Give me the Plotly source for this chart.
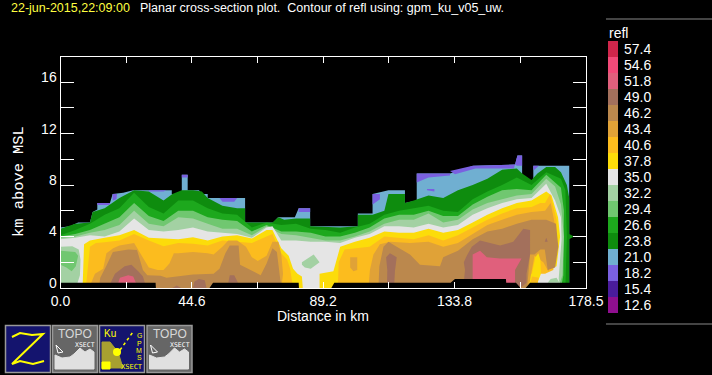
import plotly.graph_objects as go

N = None
title_time = "22-jun-2015,22:09:00"
title_text = "Planar cross-section plot.  Contour of refl using: gpm_ku_v05_uw."
legend_levels = ["12.6","15.4","18.2","21.0","23.8","26.6","29.4","32.2","35.0","37.8","40.6","43.4","46.2","49.0","51.8","54.6","57.4"]
legend_colors = ["#8f0f8f","#4a1c9c","#7a60e0","#70afd1","#0e8c0e","#1da81d","#70c770","#a3d1a3","#e5e5e5","#fcdc0a","#fcbc1e","#e0a237","#bb884d","#a3705c","#e0607c","#f24a78","#d0264b"]
x_ticks = [0,22.3,44.6,66.9,89.2,111.5,133.8,156.1,178.5]
x_labels = ["0.0","","44.6","","89.2","","133.8","","178.5"]
y_ticks = [0,2,4,6,8,10,12,14,16,18]
y_labels = ["0","","4","","8","","12","","16",""]

# Area outlines, km along the section and km above MSL, one pair per refl band
x_21 = [0,3.2,6,10,10.9,12.5,12.5,16.8,17.7,21.3,24.7,37.8,37.8,41.2,41.2,43.2,43.2,47,48.2,50,50,62.7,62.7,72.2,73.9,79.6,80.9,84.8,84.8,101,101,106,106,111.4,117,117,121,121,132.3,140.2,154.4,155.2,156.8,156.8,160.6,160.6,172.8,172.8,0]
y_21 = [4.7,4.8,5.1,5.1,5.9,6.1,6.6,6.6,7.3,7.4,7.6,7.6,7.3,7.3,8.8,8.8,7.6,7.6,7.3,7.3,7.0,7.0,5.1,5.1,5.5,5.5,6.2,6.2,4.8,4.8,5.8,5.8,7.3,7.6,7.6,6.6,6.8,8.9,8.9,9.5,9.6,10.3,10.3,8.4,8.4,9.5,9.5,0,0]
x_18 = [17.7,17.7,19.2,19,N,12.5,17,16.5,12.5,N,30,36,35,30,N,54,60,59,55,N,41.2,43.2,43.2,41.2,N,80.9,84.8,84.8,80.9,N,106,108.5,108.5,106,N,121,132.3,132.3,125,122,121,N,132.3,140,141,134,N,140,154.4,154,141,N,154.4,155.2,156.8,156.8,155,N,160.6,162.5,161,160.6,N,124.5,127,127,124.5]
y_18 = [6.8,7.3,7.3,6.9,N,6.6,6.6,6.45,6.45,N,7.6,7.6,7.5,7.5,N,7,7,6.7,6.7,N,8.8,8.8,8.6,8.6,N,6.2,6.2,5.9,5.9,N,7.3,7.3,6.9,6.5,N,8.9,8.9,8.75,8.6,8.3,8.2,N,9.1,9.5,9.3,8.85,N,9.5,9.6,9.3,9.3,N,9.6,10.3,10.3,9.5,9.5,N,9.5,9.5,9.2,9.2,N,7.7,7.7,7.5,7.6]
x_24 = [0,5,10,10.9,15,20,25,30,35,38,41.2,45,48,50,55,60,62.7,62.7,72,74,76,80,84.8,84.8,95,101,101,106,110,111.4,117,117,120,125,130,135,140,145,150,155,156.8,160,162,165,168,170,172,172.8,172.8,0,N,172.8,174.4,172.8]
y_24 = [4.6,5.0,5.1,5.9,6.2,7.0,7.6,7.5,6.8,7.3,7.6,7.6,7.5,7.0,6.4,6.2,6.2,5.1,5.1,5.5,5.3,5.4,5.4,4.8,4.7,4.8,5.7,5.7,6.0,7.3,7.3,6.6,6.8,7.2,7.0,7.6,8.0,8.5,9.2,9.3,8.9,8.4,8.9,9.4,9.4,9.0,8.0,7,0,0,N,4.2,4.0,3.8]
x_27 = [0,5,10,15,20,25,30,35,40,45,50,55,60,65,70,75,80,85,90,95,100,105,110,115,120,125,130,135,140,145,150,155,160,165,170,171.5,172,171.5,0]
y_27 = [4.1,4.5,5.0,5.7,6.2,7.4,6.3,5.8,6.8,6.8,6.2,5.8,5.7,4.7,5.1,4.9,5.0,4.6,4.5,4.3,4.7,5.0,5.7,6.0,6.2,6.4,6.0,5.9,6.9,7.5,8.0,8.6,8.0,9.0,8.5,7.6,4.0,0,0]
x_29 = [0,5,10,15,20,25,30,35,40,45,50,55,60,65,70,75,80,85,90,95,100,105,110,115,120,125,130,135,140,145,150,155,160,165,170,171,171,170.8,170,0]
y_29 = [4.0,4.2,4.5,5.0,5.5,6.6,5.6,5.2,6.0,6.0,5.5,5.3,5.2,4.4,4.9,4.4,4.4,4.3,4.0,4.0,4.3,4.7,5.4,5.7,5.7,6.0,5.6,5.6,6.5,7.1,7.6,7.7,7.6,8.8,7.8,6.0,4,1,0,0]
x_32 = [0,5,10,15,20,25,30,35,40,45,50,55,60,65,70,75,80,85,90,95,100,105,110,115,120,125,130,135,140,145,150,155,160,165,168,170,171,170.5,169,0]
y_32 = [3.9,4.0,4.3,4.5,4.9,6.0,5.0,4.8,5.5,5.4,5.0,4.6,4.6,4.1,4.8,4.2,4.1,3.9,3.7,3.7,4.0,4.4,5.0,5.3,5.3,5.8,5.1,5.3,6.1,6.6,6.9,7.2,7.3,8.5,7.9,6.5,4,1,0,0]
x_35 = [0,5,10,15,20,25,30,35,40,45,50,55,60,65,70,72,75,80,85,90,95,100,105,110,115,120,125,130,135,140,145,150,155,160,165,168,170,170.2,169.5,169,0]
y_35 = [3.8,3.9,4.1,4.0,4.4,5.4,4.5,4.4,4.5,4.7,4.4,4.3,4.2,3.9,4.7,4.8,3.7,3.7,3.6,3.6,3.5,3.9,4.2,4.8,4.8,4.7,5.0,4.7,4.9,5.7,6.2,6.6,6.9,7.0,8.1,6.8,5.5,3.8,1.2,0,0]
x_left32 = [0,4,6.2,6.8,6.6,5.8,5.8,0,N,82,86,88,85,83,82]
y_left32 = [3.2,3.25,3.0,2.2,1.0,.4,0,0,N,2.0,2.6,2.0,1.5,1.6,1.8]
x_left29 = [0,5,6,5.2,3.8,2,0]
y_left29 = [2.9,2.8,2.5,1.7,1.3,1.6,1.8]
x_38 = [7.5,7.8,8,10,12,15,20,25,30,35,40,45,50,55,60,65,70,72,75,77.5,79,80.5,82,82.3,N,88,88,92.7,94.4,95,100,105,110,115,120,125,130,135,140,145,150,155,160,163,165,166.8,169,169.7,168.5,162.3,162,88]
y_38 = [0,2,3.4,3.7,3.8,3.9,4.1,4.5,3.9,3.85,3.8,3.95,3.7,4.0,4.1,3.85,4.5,4.5,3.1,2.5,1.5,1.1,.9,0,N,0,1.1,1.3,2.7,3.2,3.6,3.9,4.4,4.3,4.3,4.6,4.3,4.5,5.1,5.7,6.2,6.6,6.8,7.2,7.5,7.2,5.5,4.0,1.7,1.1,0,0]
x_41 = [8.6,9,9.5,10,12,15,20,25,30,35,40,45,50,55,60,65,70,72,75,77,78,78.5,79,N,94.2,94.5,96.5,100,105,110,115,120,125,130,135,140,145,150,155,160,163,164.6,166.3,168.5,168.5,167.4,164.6,159,158,94.2]
y_41 = [0,1.0,2.5,3.2,3.5,3.55,3.7,4.2,3.7,3.25,3.5,3.45,3.3,3.7,3.6,3.5,4.0,4.2,2.7,2.2,1.5,.8,0,N,0,2.0,3.0,3.1,3.2,4.0,3.9,3.8,4.1,3.7,4.1,4.7,5.3,5.8,6.2,6.3,6.6,6.6,7.3,5.3,3.7,1.4,1.1,1.1,0,0]
x_43 = [9.7,11.7,14.5,15.6,17.9,20,25,30,33,35,37,38.5,40,45,50,52,55,57,60,63,65,67,70,72,74,75,75.6,75,N,104.6,105.1,106.3,108.5,112,115,118.7,125,130,135,140,145,150,155,160,164.6,166.5,168.3,167.6,165.7,164,161,159,104.6,N,98.4,100.8,100.8,99.5,98.4]
y_43 = [0,1.1,1.5,2.7,3.1,3.3,3.5,1.6,1.4,1.4,1.9,2.7,2.7,2.8,2.7,2.6,3.2,3.7,3.7,3.2,2.4,2.1,2.5,3.6,3.6,2.6,1.1,0,N,0,1.4,2.6,3.4,3.6,3.55,3.5,3.6,3.2,3.5,4.2,4.9,5.3,5.7,5.9,6.0,6.6,4.5,2.2,1.3,2.0,2.5,0,0,N,2.4,2.4,1.4,1.3,1.6]
x_46 = [13,13.5,15.5,17.8,23,26,28,29.5,34,36,45,52,54,56,57.5,60.5,61,66,68,70,72,73.5,74.5,75,N,108,108.3,109.7,111.4,114.2,118.7,122.1,128.9,130,135,140,145,150,155,160,165,168.3,169.1,168,165.5,164.5,163,161,159.5,158.5,108]
y_46 = [0,.8,1.7,2.8,3.0,2.95,1.4,1.0,.95,.8,1.05,1.1,1.5,2.7,3.3,3.3,1.8,1.2,1.0,1.9,3.1,2.8,1.0,0,N,0,1.7,3.2,3.6,3.2,2.6,1.8,1.7,2.4,2.9,3.8,4.4,4.6,5.0,5.3,5.3,5.0,3.2,1.6,1.4,3.0,3.0,2.6,2.6,0,0]
x_49 = [16.2,18.5,21.8,24.1,26.4,28,29.2,N,38,41,39.5,N,45,45.5,47,49,49.6,N,57,57.5,59,60.3,N,110.9,111,110.6,111.9,114.2,113.6,113.3,N,136.8,137.4,137,138,139.7,142.5,149.3,153.8,157.2,159.5,159.5,158.3,158.3,156.1,N,164.5,165,165.5]
y_49 = [0,1.1,1.7,1.8,1.3,.9,0,N,0,0,.2,N,0,.5,.7,.6,0,N,.4,1.0,1.0,.4,N,0,1.4,2.4,2.7,2.4,1.3,0,N,0,1.4,2.0,2.5,3.2,3.7,3.3,3.6,4.6,4.5,2.6,1.1,.4,0,N,3.6,3.9,3.6]
x_52 = [19.6,20.2,23,24.7,25.6,N,140,140,142.5,144.8,149.3,156.6,154.4,154.4,140]
y_52 = [.4,.8,1.0,.9,.4,N,0,2.6,2.9,2.4,2.3,2.3,1.4,0,0]
# Shallow cells near the far end of the section, drawn over the bands above
x_end38 = [159.8,160.2,161.3,162.3,163,163.2,162,159.8]
y_end38 = [.4,1.2,2.4,2.7,2.2,1.1,.4,.4]
x_end41 = [159.6,160.2,162.5,162,159.6]
y_end41 = [.4,.9,.8,.4,.4]
x_end35 = [162.5,163,167,168.5,169.5,162.5]
y_end35 = [.4,.9,1.0,1.1,.4,.4]
x_end32 = [165.5,166.5,168.5,169.5,165.5]
y_end32 = [.4,.7,.8,.4,.4]
# Terrain along the section
x_topo = [0,32.3,32.4,50.6,51.8,80.9,81,92,93,132.5,134,151.3,151.4,154.7,156.3,158,159.5,178.5]
y_topo = [.4,.4,0,0,.4,.4,0,0,.4,.4,.7,.7,.4,.4,0,0,.4,.4]

color_of = dict(zip(legend_levels, legend_colors))
bands = [
    ("21.0",x_21,y_21),("18.2",x_18,y_18),("23.8",x_24,y_24),("26.6",x_27,y_27),("29.4",x_29,y_29),
    ("32.2",x_32,y_32),("35.0",x_35,y_35),("32.2",x_left32,y_left32),("29.4",x_left29,y_left29),
    ("37.8",x_38,y_38),("40.6",x_41,y_41),("43.4",x_43,y_43),("46.2",x_46,y_46),("49.0",x_49,y_49),
    ("51.8",x_52,y_52),("37.8",x_end38,y_end38),("40.6",x_end41,y_end41),("35.0",x_end35,y_end35),("32.2",x_end32,y_end32),
]

W, H = 712, 375
def px(v): return v / W
def py(v): return 1 - v / H

fig = go.Figure()
for level, xs, ys in bands:
    fig.add_trace(go.Scatter(x=xs, y=ys, mode="lines", fill="toself", fillcolor=color_of[level],
                             line=dict(width=0, color=color_of[level]), hoverinfo="skip", showlegend=False))
fig.add_trace(go.Scatter(x=x_topo, y=y_topo, mode="lines", fill="tozeroy", fillcolor="#000000",
                         line=dict(width=0, color="#000000"), hoverinfo="skip", showlegend=False))
fig.add_trace(go.Bar(y=legend_levels, x=[1]*len(legend_levels), orientation="h", marker=dict(color=legend_colors, line=dict(width=0)),
                     xaxis="x2", yaxis="y2", width=1, hoverinfo="skip", showlegend=False))

shapes = []
def rect(x0,y0,x1,y1,fill,line=None,w=1):
    shapes.append(dict(type="rect",xref="paper",yref="paper",x0=px(x0),x1=px(x1),y0=py(y0),y1=py(y1),fillcolor=fill,line=dict(color=line or fill,width=w),layer="above"))
def path(points,color,fill=None,w=1,close=False):
    d = "M" + " L".join(f"{px(a):.5f},{py(b):.5f}" for a,b in points) + (" Z" if close else "")
    shapes.append(dict(type="path",xref="paper",yref="paper",path=d,fillcolor=fill or "rgba(0,0,0,0)",line=dict(color=color,width=w),layer="above"))
annots = []
def text(x,y,s,size=14,color="white",anchor="left",family="Liberation Sans",angle=0):
    annots.append(dict(xref="paper",yref="paper",x=px(x),y=py(y),text=s,showarrow=False,xanchor=anchor,yanchor="middle",borderpad=0,
                       font=dict(size=size,color=color,family=family),textangle=angle))

# header and legend furniture
text(10,8.5,title_time,12.5,"#ffff40")
text(139,8.5,title_text,12.5,"white")
text(608,32.5,"refl",14)
text(323,316,"Distance in km",14,anchor="center")
text(19,182,"km above MSL",15.4,family="Liberation Mono",anchor="center",angle=-90)
path([(606,19),(712,19)],"#888888")
path([(606,324),(712,324)],"#888888")

# toolbar buttons
rect(5.5,325.5,50.5,372.5,"#14146e","#999999",1.5)
path([(12,337),(20,333),(32,335),(43,334),(12,364),(20,361),(33,364),(44,361)],"#ffff00",w=2)
def topo(dx):
    rect(52.5+dx,325.5,97.5+dx,372.5,"#666666","#999999",1.5)
    text(75+dx,334,"TOPO",12,"#d8d8d8",anchor="center")
    text(85+dx,344.5,"XSECT",6.5,"white",anchor="center",family="DejaVu Sans Mono")
    path([(55+dx,369),(55+dx,355),(62+dx,358),(70+dx,357),(74+dx,354),(80+dx,348),(85+dx,352),(90+dx,349),(94+dx,352),(94+dx,369)],"#e0e0e0","#e0e0e0",close=True)
    path([(56+dx,345),(63+dx,352),(58+dx,353),(56+dx,345)],"#ffffff")
topo(0)
rect(99.5,325.5,144.5,372.5,"#14146e","#999999",1.5)
text(110,333,"Ku",10,"#ffff00",anchor="center")
for yy,ch in [(335,"G"),(343,"P"),(350,"M"),(357,"S")]:
    text(139,yy,ch,7,"#ffff00",anchor="center")
text(132,367,"XSECT",7,"#ffff00",anchor="center",family="DejaVu Sans Mono")
path([(102,342),(110,342),(118,352),(123,368),(102,368)],"#a8a030","#a8a030",close=True)
rect(102,362,110,369,"#ffff00")
shapes.append(dict(type="circle",xref="paper",yref="paper",x0=px(113),x1=px(121),y0=py(356),y1=py(348),fillcolor="#ffff00",line=dict(width=0),layer="above"))
shapes.append(dict(type="line",xref="paper",yref="paper",x0=px(120),y0=py(350),x1=px(133),y1=py(332),line=dict(color="#ffff00",width=1.5,dash="dot"),layer="above"))
topo(94.5)

axis_font = dict(size=14,color="white",family="Liberation Sans")
common = dict(showgrid=False,zeroline=False,showline=True,linecolor="white",linewidth=1,mirror="ticks",ticks="inside",tickcolor="white",tickwidth=1,tickfont=axis_font,automargin=False)
fig.update_layout(
    width=W,height=H,autosize=False,margin=dict(l=0,r=0,t=0,b=0,pad=0),
    paper_bgcolor="#000000",plot_bgcolor="#000000",showlegend=False,hovermode=False,
    barmode="stack",bargap=0,shapes=shapes,annotations=annots,
    xaxis=dict(domain=[60.5/W,586/W],range=[0,178.5],tickmode="array",tickvals=x_ticks,ticktext=x_labels,ticklen=6,**common),
    yaxis=dict(domain=[1-288/H,1-56.5/H],range=[0,18],tickmode="array",tickvals=y_ticks,ticktext=y_labels,ticklen=13,ticklabelshift=-5,**common),
    xaxis2=dict(domain=[608/W,618/W],range=[0,1],visible=False,anchor="y2",automargin=False),
    yaxis2=dict(domain=[1-313/H,1-41/H],anchor="x2",side="right",type="category",categoryorder="array",categoryarray=legend_levels,
                tickmode="array",tickvals=legend_levels,ticktext=legend_levels,automargin=False,
                showgrid=False,zeroline=False,showline=False,ticks="",tickfont=axis_font,ticklabelstandoff=5),
)
fig.write_html("out.html",config=dict(displayModeBar=False),
               post_script="document.body.style.margin='0';document.body.style.background='#000';document.documentElement.style.overflow='hidden';")
